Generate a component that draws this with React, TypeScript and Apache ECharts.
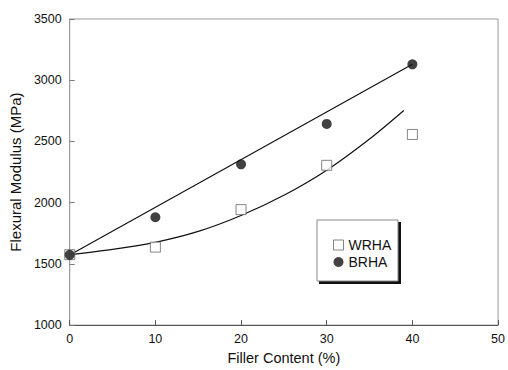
import React, { useEffect, useRef } from "react";
import * as echarts from "echarts";

const fillerContent = [0, 10, 20, 30, 40];
const wrhaValues = [1575, 1637, 1943, 2305, 2557];
const brhaValues = [1574, 1881, 2313, 2643, 3130];
// fitted curves
const wrhaFitX = [0, 5, 10, 15, 20, 25, 30, 35, 39];
const wrhaFitY = [1575, 1618, 1676, 1765, 1895, 2060, 2265, 2520, 2753];
const brhaFitX = [0, 40];
const brhaFitY = [1572, 3130];
const xTicks = [0, 10, 20, 30, 40, 50];
const yTicks = [1000, 1500, 2000, 2500, 3000, 3500];

const FONT = "Liberation Sans, Arial, sans-serif";

export default function App() {
  const ref = useRef<HTMLDivElement>(null);
  useEffect(() => {
    if (!ref.current) return;
    const chart = echarts.init(ref.current, undefined, { renderer: "svg" });
    const pair = (xs: number[], ys: number[]) => xs.map((x, i) => [x, ys[i]]);
    chart.setOption({
      animation: false,
      backgroundColor: "#ffffff",
      textStyle: { fontFamily: FONT },
      grid: {
        left: 67,
        top: 19,
        width: 433,
        height: 318,
        show: true,
        borderColor: "#9a9a9a",
        borderWidth: 1,
      },
      xAxis: {
        type: "value",
        min: xTicks[0],
        max: xTicks[xTicks.length - 1],
        interval: 10,
        name: "Filler Content (%)",
        nameLocation: "middle",
        nameGap: 19,
        nameTextStyle: { fontSize: 14.5, color: "#111", fontFamily: FONT },
        axisLine: { lineStyle: { color: "#555", width: 1 } },
        axisTick: { inside: true, length: 5, lineStyle: { color: "#555" } },
        axisLabel: { fontSize: 12.5, color: "#111", margin: 7, fontFamily: FONT, formatter: (v: number) => String(v) },
        splitLine: { show: false },
      },
      yAxis: {
        type: "value",
        min: yTicks[0],
        max: yTicks[yTicks.length - 1],
        interval: 500,
        name: "Flexural Modulus (MPa)",
        nameLocation: "middle",
        nameGap: 44,
        nameTextStyle: { fontSize: 15, color: "#111", fontFamily: FONT },
        axisLine: { show: true, lineStyle: { color: "#9a9a9a", width: 1 } },
        axisTick: { show: true, inside: true, length: 5, lineStyle: { color: "#777" } },
        axisLabel: { fontSize: 12.5, color: "#111", margin: 8, fontFamily: FONT, formatter: (v: number) => String(v) },
        splitLine: { show: false },
      },
      legend: {
        orient: "vertical",
        left: 328,
        top: 233,
        itemWidth: 10,
        itemHeight: 10,
        itemGap: 3,
        textStyle: { fontSize: 14, color: "#111", fontFamily: FONT },
        data: [
          { name: "WRHA", icon: "rect", itemStyle: { color: "#fff", borderColor: "#666", borderWidth: 1 } },
          { name: "BRHA", icon: "circle", itemStyle: { color: "#111" } },
        ],
      },
      graphic: [
        { type: "rect", shape: { x: 319, y: 222, width: 82, height: 62 }, style: { fill: "#111" }, z: 0 },
        { type: "rect", shape: { x: 317, y: 220, width: 81, height: 61 }, style: { fill: "#fff", stroke: "#888", lineWidth: 1 }, z: 1 },
      ],
      series: [
        {
          name: "WRHA fit",
          type: "line",
          data: pair(wrhaFitX, wrhaFitY),
          smooth: 0.3,
          showSymbol: false,
          silent: true,
          lineStyle: { color: "#111", width: 1.2 },
          z: 2,
        },
        {
          name: "BRHA fit",
          type: "line",
          data: pair(brhaFitX, brhaFitY),
          showSymbol: false,
          silent: true,
          lineStyle: { color: "#111", width: 1.2 },
          z: 2,
        },
        {
          name: "WRHA",
          type: "scatter",
          symbol: "rect",
          symbolSize: 10,
          data: pair(fillerContent, wrhaValues),
          itemStyle: { color: "#fff", borderColor: "#666", borderWidth: 1 },
          z: 3,
        },
        {
          name: "BRHA",
          type: "scatter",
          symbol: "circle",
          symbolSize: 10,
          data: pair(fillerContent, brhaValues),
          itemStyle: { color: "#111" },
          z: 4,
        },
      ],
    });
    return () => chart.dispose();
  }, []);
  return (
    <div
      ref={ref}
      style={{ position: "fixed", left: 0, top: 0, width: 508, height: 370 }}
    />
  );
}
